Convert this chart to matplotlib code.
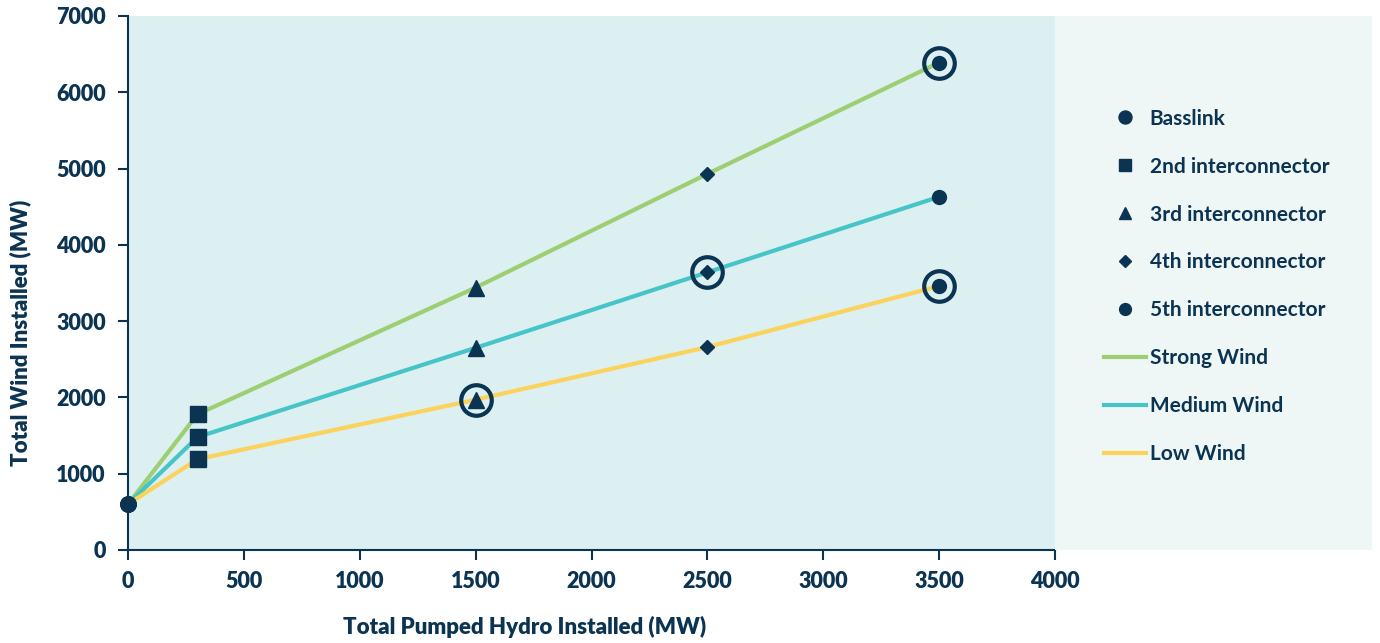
import matplotlib

matplotlib.use("Agg")
import matplotlib.pyplot as plt
from matplotlib.lines import Line2D
from matplotlib.patches import Rectangle

NAVY = "#0b3352"
PLOT_BG = "#dceff1"
PANEL_BG = "#eef7f6"

# Installed pumped hydro (MW) at each build step
hydro = [0, 300, 1500, 2500, 3500]

# Total wind installed (MW) per scenario
strong_wind = [600, 1780, 3440, 4930, 6390]
medium_wind = [600, 1480, 2650, 3640, 4630]
low_wind = [600, 1190, 1970, 2660, 3460]

scenarios = [
    ("Strong Wind", strong_wind, "#9dcf72"),
    ("Medium Wind", medium_wind, "#46c4c8"),
    ("Low Wind", low_wind, "#fbd35c"),
]

# Interconnector stage marker for each hydro step
stage_labels = ["Basslink", "2nd interconnector", "3rd interconnector",
                "4th interconnector", "5th interconnector"]
stage_markers = ["o", "s", "^", "D", "o"]
stage_sizes = [11, 11, 11, 7, 10]

# Highlighted (ringed) points: (scenario index, hydro step index)
ringed = [(0, 4), (1, 3), (2, 2), (2, 4)]

plt.rcParams["font.family"] = ["Lato", "DejaVu Sans"]

fig = plt.figure(figsize=(13.8, 6.43), dpi=100)
fig.patch.set_facecolor("white")
ax = fig.add_axes([128 / 1380, 1 - 550 / 643, 927 / 1380, 534 / 643])
ax.set_facecolor(PLOT_BG)

# lighter panel behind the legend
fig.patches.append(Rectangle((1055 / 1380, 1 - 550 / 643), 317 / 1380, 534 / 643,
                             transform=fig.transFigure, facecolor=PANEL_BG,
                             edgecolor="none", zorder=0))

for name, values, color in scenarios:
    ax.plot(hydro, values, color=color, linewidth=3, zorder=2, solid_capstyle="butt")

for name, values, color in scenarios:
    for i, (x, y) in enumerate(zip(hydro, values)):
        ax.plot(x, y, marker=stage_markers[i], markersize=stage_sizes[i],
                color=NAVY, linestyle="none", zorder=4, clip_on=False)

for s, i in ringed:
    values = scenarios[s][1]
    ax.plot(hydro[i], values[i], marker="o", markersize=22, markerfacecolor="none",
            markeredgecolor=NAVY, markeredgewidth=3, linestyle="none", zorder=5)

ax.set_xlim(0, 4000)
ax.set_ylim(0, 7000)
ax.set_xticks(range(0, 4001, 500))
ax.set_yticks(range(0, 7001, 1000))

for spine in ("top", "right"):
    ax.spines[spine].set_visible(False)
for spine in ("left", "bottom"):
    ax.spines[spine].set_color(NAVY)
    ax.spines[spine].set_linewidth(1.5)
ax.tick_params(colors=NAVY, length=7, width=1.5, labelsize=15.5, direction="out")
ax.tick_params(axis="x", pad=8)
ax.tick_params(axis="y", pad=9)
for lbl in ax.get_xticklabels() + ax.get_yticklabels():
    lbl.set_fontweight("heavy")

fig.text(525 / 1380, 1 - 627 / 643, "Total Pumped Hydro Installed (MW)",
         ha="center", va="center", fontsize=16, fontweight="heavy", color=NAVY)
fig.text(20 / 1380, 1 - 333 / 643, "Total Wind Installed (MW)", rotation=90,
         ha="center", va="center", fontsize=16, fontweight="heavy", color=NAVY)

handles = []
for lbl, m, ms in zip(stage_labels, stage_markers, stage_sizes):
    handles.append(Line2D([], [], marker=m, markersize=ms * 0.85, color=NAVY,
                          linestyle="none", label=lbl))
for name, values, color in scenarios:
    handles.append(Line2D([], [], color=color, linewidth=3, label=name))

leg = fig.legend(handles=handles, loc="upper left",
                 bbox_to_anchor=(1085 / 1380, 1 - 90 / 643), frameon=False,
                 fontsize=15, labelspacing=1.34, handlelength=2.05,
                 handletextpad=0.15, labelcolor=NAVY)
for t in leg.get_texts():
    t.set_fontweight("bold")

fig.savefig("out.png", dpi=100, facecolor=fig.get_facecolor())
